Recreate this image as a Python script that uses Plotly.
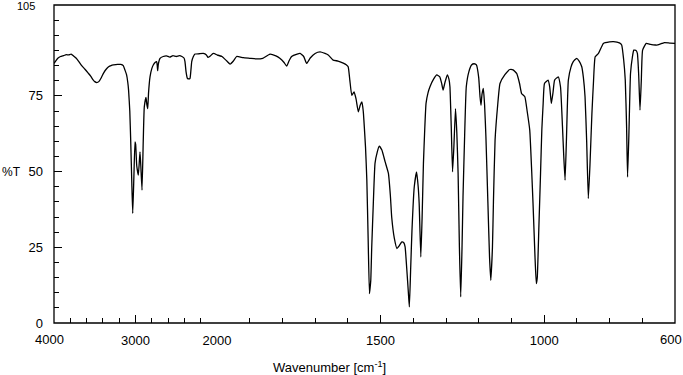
import plotly.graph_objects as go

# ---- data: wavenumber (cm^-1) and %T ----
wn_high = [4000, 3980, 3950, 3920, 3880, 3850, 3820, 3790, 3760, 3730, 3700, 3660, 3620,
           3580, 3550, 3520, 3500, 3475, 3450, 3420, 3390, 3360, 3330, 3300, 3270, 3220,
           3180, 3150, 3129, 3110, 3095, 3085, 3070, 3059, 3045, 3034, 3020, 3006, 2998,
           2985, 2965, 2945, 2935, 2920, 2905, 2892, 2871, 2860, 2850, 2840, 2822, 2800,
           2782, 2760, 2740, 2733, 2728, 2720, 2699, 2660, 2620, 2580, 2540, 2500, 2460,
           2430, 2405, 2393, 2380, 2364, 2345, 2331, 2320, 2310, 2290, 2270, 2220, 2168,
           2130, 2110, 2090, 2045, 2000]
t_high = [85.7, 86.5, 87.5, 88.0, 88.3, 88.6, 88.5, 88.8, 88.2, 87.5, 86.5, 85.0, 83.8,
          82.5, 81.5, 80.3, 79.7, 79.4, 79.7, 81.0, 82.6, 83.8, 84.6, 85.0, 85.2, 85.4,
          85.4, 85.0, 83.5, 82.0, 79.5, 76.9, 70.0, 60.4, 46.0, 36.2, 48.0, 59.8, 59.0,
          52.0, 48.8, 56.5, 52.0, 43.9, 60.0, 71.4, 74.5, 72.0, 70.8, 76.0, 81.3, 84.0,
          85.2, 86.0, 86.3, 85.0, 83.3, 85.5, 87.4, 88.0, 88.2, 87.8, 88.3, 88.0, 88.3,
          88.0, 87.5, 86.3, 83.0, 80.8, 80.6, 80.8, 83.5, 86.3, 88.0, 88.8, 88.9, 89.0,
          88.5, 87.7, 88.0, 89.0, 88.5]

wn_low = [2000, 1985, 1970, 1960, 1950, 1940, 1920, 1900, 1880, 1860, 1838, 1820, 1808,
          1795, 1787, 1780, 1772, 1755, 1746, 1735, 1726, 1715, 1700, 1685, 1670, 1660,
          1645, 1630, 1614, 1605, 1599, 1594, 1588, 1581, 1575, 1568, 1562, 1557, 1553,
          1551, 1546, 1542, 1538, 1534, 1530, 1527, 1522, 1517, 1510, 1504, 1496, 1486,
          1476, 1470, 1466, 1458, 1450, 1443, 1435, 1429, 1425, 1420, 1415, 1412, 1408,
          1404, 1397, 1390, 1385, 1382, 1377, 1373, 1369, 1365, 1361, 1355, 1349, 1338,
          1328, 1319, 1313, 1309, 1303, 1296, 1291, 1288, 1284, 1280, 1276, 1271, 1267,
          1263, 1259, 1255, 1251, 1248, 1243, 1238, 1230, 1222, 1214, 1207, 1200, 1196,
          1193, 1190, 1186, 1182, 1178, 1172, 1167, 1163, 1158, 1155, 1150, 1142, 1135,
          1120, 1105, 1095, 1084, 1075, 1069, 1059, 1052, 1044, 1038, 1034, 1028, 1024,
          1021, 1016, 1011, 1007, 1003, 999, 988, 983, 978, 973, 968, 957, 950, 944, 940,
          936, 932, 926, 918, 911, 901, 893, 885, 880, 875, 870, 865, 860, 854, 849, 844,
          834, 819, 800, 788, 770, 763, 757, 752, 748, 745, 741, 736, 730, 726, 719, 715,
          711, 707, 703, 699, 688, 675, 660, 653, 640, 632, 615, 600]
t_low = [88.5, 88.0, 86.5, 85.5, 86.5, 88.0, 87.6, 87.4, 87.2, 87.4, 88.8, 88.2, 87.4,
         86.0, 84.8, 86.5, 88.0, 88.8, 89.0, 88.0, 85.7, 87.5, 89.0, 89.5, 89.0, 88.5,
         86.8, 86.5, 85.8, 85.3, 84.6, 80.2, 75.2, 76.3, 74.0, 69.7, 72.0, 73.0, 70.0,
         67.0, 58.0, 47.2, 28.0, 9.7, 14.0, 25.1, 40.0, 52.7, 56.5, 58.4, 57.1, 53.2,
         49.4, 42.0, 35.0, 28.0, 24.6, 25.5, 26.8, 26.5, 25.1, 18.0, 10.0, 5.3, 18.0,
         30.6, 45.0, 49.9, 45.0, 39.5, 21.8, 35.0, 52.7, 64.0, 72.5, 76.0, 78.0, 80.5,
         81.9, 81.3, 79.0, 76.9, 79.5, 81.9, 80.5, 78.0, 65.0, 49.9, 58.0, 70.8, 63.0,
         49.4, 25.0, 8.6, 25.0, 41.6, 62.0, 78.0, 83.0, 85.2, 85.6, 85.2, 81.0, 74.7,
         71.9, 75.5, 77.5, 72.0, 61.5, 40.0, 22.0, 14.1, 25.0, 40.0, 60.4, 72.0, 79.1,
         82.0, 83.7, 83.6, 82.4, 79.0, 75.8, 74.7, 70.0, 63.7, 50.0, 39.5, 22.0, 13.0,
         15.0, 32.0, 49.4, 64.0, 72.5, 79.1, 80.2, 78.0, 72.5, 76.0, 80.2, 81.3, 78.0, 65.0, 55.0,
         47.2, 60.0, 80.2, 84.5, 86.3, 87.4, 86.5, 84.6, 81.0, 74.7, 60.0, 41.1, 52.0, 69.2, 80.0, 87.9,
         89.0, 92.3, 92.8, 92.9, 92.5, 91.8, 87.0, 80.2, 65.0, 48.2, 62.0, 82.4, 88.0, 90.1, 90.0, 89.0,
         82.0, 70.3, 80.0, 90.1, 92.3, 92.0, 91.8, 91.8, 92.3, 92.6, 92.4, 92.3]

x1_ticks = [4000, 3000, 2000]
x1_labels = ["", "3000", "2000"]
x1_start_label = 4000
x1_minor = [3800, 3600, 3400, 3200, 2800, 2600, 2400, 2200]
x2_ticks = [1500, 1000]
x2_minor = [1900, 1800, 1700, 1600, 1400, 1300, 1200, 1100, 900, 800, 700]
x2_end_label = 600
y_ticks = [0, 25, 50, 75]
y_minor = [5, 10, 15, 20, 30, 35, 40, 45, 55, 60, 65, 70, 80, 85, 90, 95, 100]
y_top_label = 105

FONT = "Liberation Sans, Arial, sans-serif"
line = dict(color="black", width=1.3, shape="spline", smoothing=0.4)

fig = go.Figure()
fig.add_trace(go.Scatter(x=wn_high, y=t_high, mode="lines", line=line,
                         xaxis="x", yaxis="y", showlegend=False, hoverinfo="skip"))
fig.add_trace(go.Scatter(x=wn_low, y=t_low, mode="lines", line=line,
                         xaxis="x2", yaxis="y", showlegend=False, hoverinfo="skip"))

split = 163 / 621
tickfont = dict(family=FONT, size=13, color="black")
common_x = dict(showgrid=False, zeroline=False, showline=False, ticks="inside",
                ticklen=8, tickwidth=1, tickcolor="black", automargin=False,
                tickfont=tickfont, ticklabelstandoff=8)

fig.update_layout(
    width=683, height=375,
    margin=dict(l=54, r=8, t=5, b=52, autoexpand=False),
    paper_bgcolor="white", plot_bgcolor="white",
    xaxis=dict(domain=[0, split], range=[4000, 2000], anchor="y",
               tickmode="array", tickvals=x1_ticks, ticktext=x1_labels,
               minor=dict(tickmode="array", tickvals=x1_minor, ticks="inside",
                          ticklen=5, tickcolor="black", showgrid=False),
               **common_x),
    xaxis2=dict(domain=[split, 1], range=[2000, 600], anchor="y",
                tickmode="array", tickvals=x2_ticks, ticktext=[str(v) for v in x2_ticks],
                minor=dict(tickmode="array", tickvals=x2_minor, ticks="inside",
                           ticklen=5, tickcolor="black", showgrid=False),
                **common_x),
    yaxis=dict(range=[0, 105], showgrid=False, zeroline=False, showline=False,
               automargin=False,
               tickmode="array", tickvals=y_ticks, ticktext=[str(v) for v in y_ticks],
               ticks="inside", ticklen=8, tickwidth=1, tickcolor="black",
               minor=dict(tickmode="array", tickvals=y_minor, ticks="inside",
                          ticklen=5, tickcolor="black", showgrid=False),
               tickfont=tickfont, ticklabelstandoff=10),
    shapes=[dict(type="rect", xref="paper", yref="paper", x0=0, x1=1, y0=0, y1=1,
                 line=dict(color="black", width=1.3), layer="above")],
    annotations=[
        dict(text="%T", xref="paper", yref="y", x=-31 / 621, y=50, xanchor="right",
             yanchor="middle", showarrow=False,
             font=dict(family=FONT, size=12, color="black")),
        dict(text=str(y_top_label), xref="paper", yref="y", x=-17 / 621, y=y_top_label,
             yshift=-1, xanchor="right", yanchor="middle", showarrow=False,
             font=dict(family=FONT, size=11, color="black")),
        dict(text=str(x1_start_label), xref="x", yref="paper", x=x1_start_label, y=0,
             xshift=-5, yshift=-16, xanchor="center", yanchor="middle",
             showarrow=False, font=tickfont),
        dict(text=str(x2_end_label), xref="x2", yref="paper", x=x2_end_label, y=0,
             xshift=-4, yshift=-16, xanchor="center", yanchor="middle",
             showarrow=False, font=tickfont),
        dict(text="Wavenumber [cm<sup>-1</sup>]", xref="paper", yref="paper",
             x=(329 - 54) / 621, y=-(367 - 322.7) / 317.7, xanchor="center",
             yanchor="middle", showarrow=False, font=tickfont),
    ],
)

fig.write_html("out.html", config={"displayModeBar": False},
               post_script="document.body.style.margin='0';document.body.style.padding='0';")
